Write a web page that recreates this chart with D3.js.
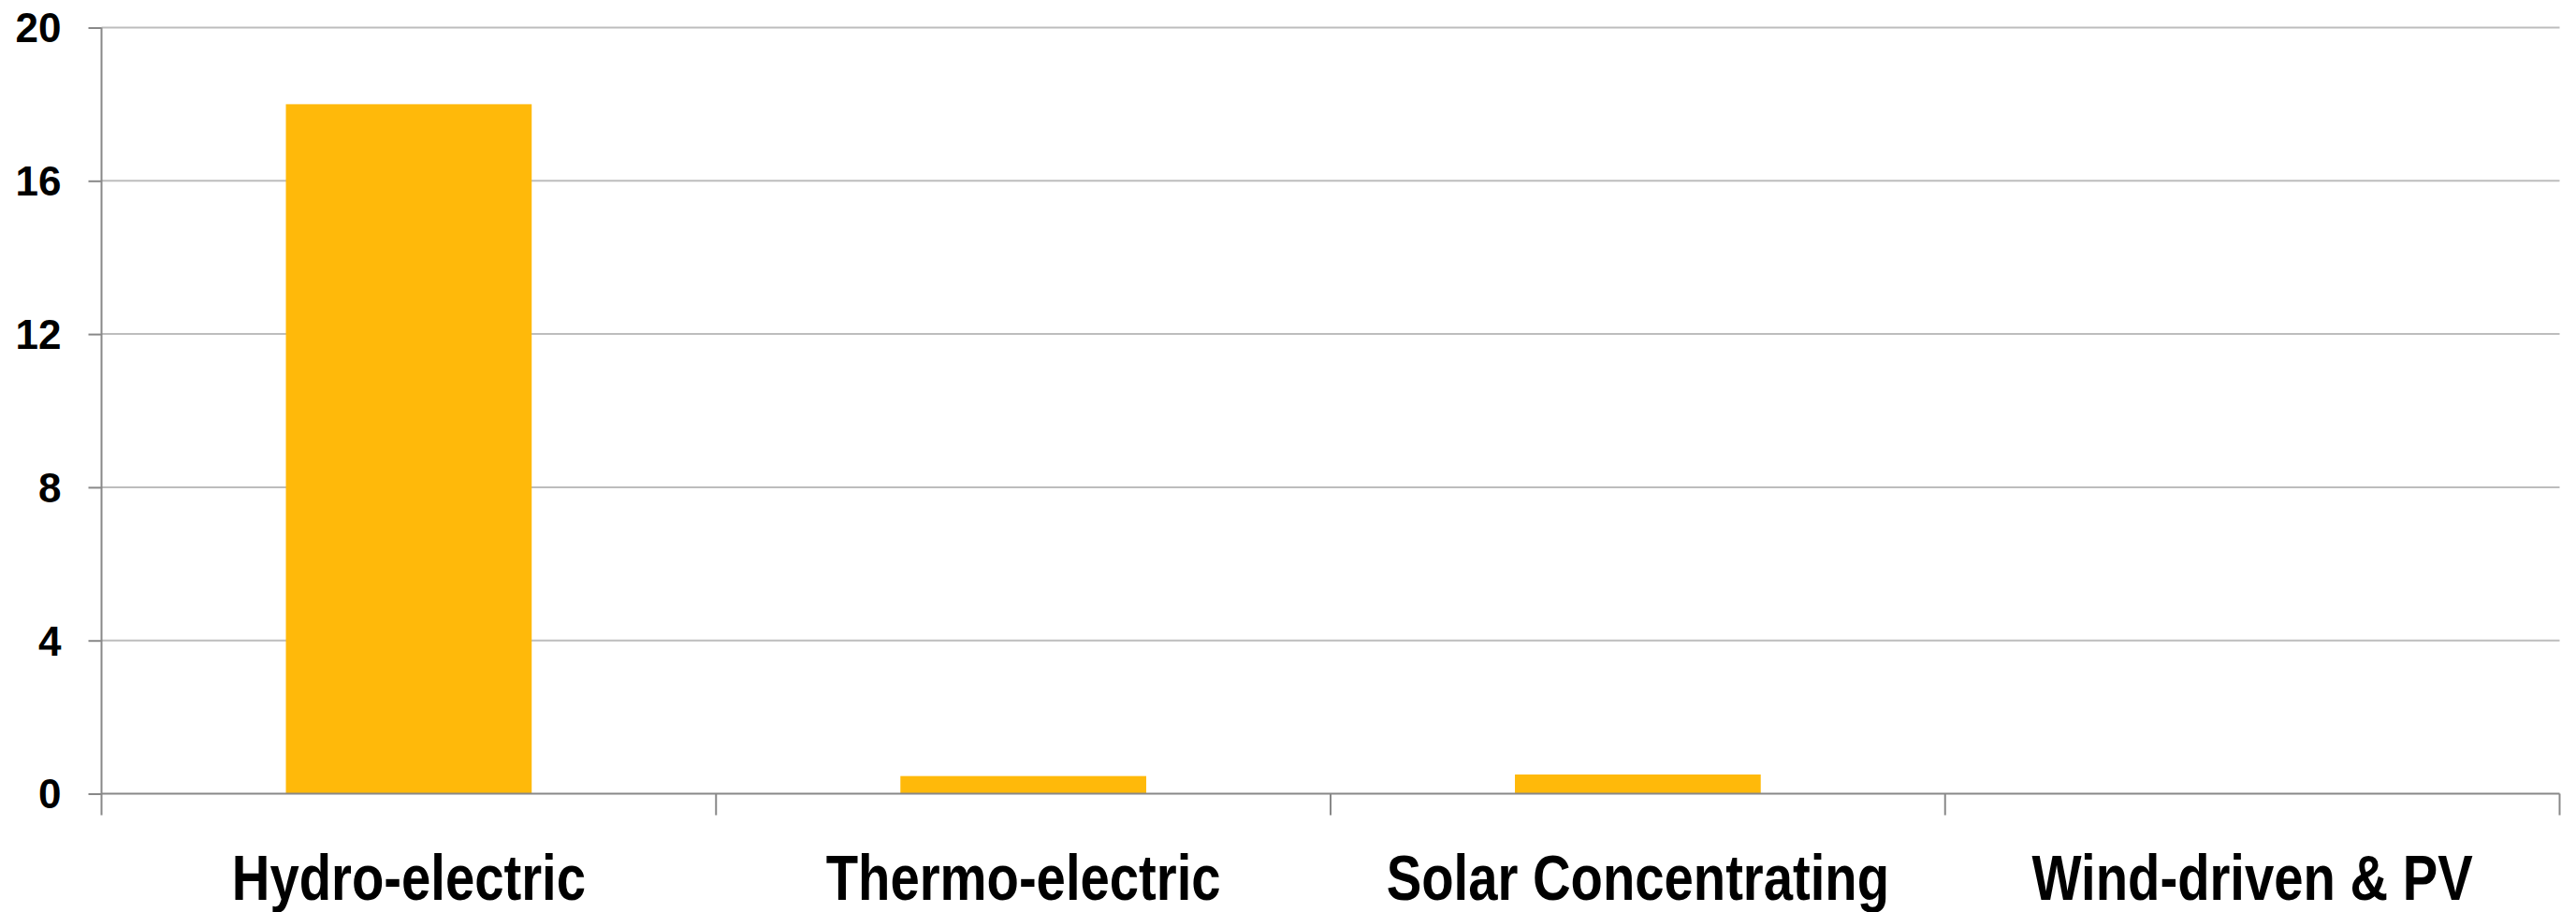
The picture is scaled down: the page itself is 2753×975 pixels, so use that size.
<!DOCTYPE html>
<html>
<head>
<meta charset="utf-8">
<script src="https://cdn.jsdelivr.net/npm/d3@7"></script>
<style>
  html, body { margin: 0; padding: 0; background: #ffffff; }
  svg { display: block; }
</style>
</head>
<body>
<svg id="chart" width="2753" height="975"></svg>
<script>
const categories = ["Hydro-electric", "Thermo-electric", "Solar Concentrating", "Wind-driven & PV"];
const values = [18, 0.46, 0.5, 0];
const yTicks = [0, 4, 8, 12, 16, 20];

const W = 2753, H = 975;
const margin = { left: 108.5, right: 17.5, top: 29.5, bottom: 126.5 };

const svg = d3.select("#chart");

const x = d3.scaleBand()
  .domain(categories)
  .range([margin.left, W - margin.right])
  .paddingInner(0).paddingOuter(0);

const y = d3.scaleLinear()
  .domain([0, 20])
  .range([H - margin.bottom, margin.top]);

// gridlines
svg.append("g")
  .selectAll("line")
  .data(yTicks.filter(d => d !== 0))
  .join("line")
  .attr("x1", margin.left)
  .attr("x2", W - margin.right)
  .attr("y1", d => y(d))
  .attr("y2", d => y(d))
  .attr("stroke", "#bdbdbd")
  .attr("stroke-width", 2);

// bars
const barW = x.bandwidth() * 0.4;
svg.append("g")
  .selectAll("rect")
  .data(categories.map((c, i) => ({ c, v: values[i] })))
  .join("rect")
  .attr("x", d => x(d.c) + (x.bandwidth() - barW) / 2)
  .attr("width", barW)
  .attr("y", d => y(d.v))
  .attr("height", d => y(0) - y(d.v))
  .attr("fill", "#FFB90A");

// y axis
const yAxis = d3.axisLeft(y)
  .tickValues(yTicks)
  .tickSize(14)
  .tickPadding(29)
  .tickFormat(d3.format("d"));
const gy = svg.append("g")
  .attr("transform", `translate(${margin.left},0)`)
  .call(yAxis);
gy.select(".domain").remove();
gy.append("line")
  .attr("x1", 0).attr("x2", 0)
  .attr("y1", margin.top).attr("y2", y(0) + 23)
  .attr("stroke", "#888888").attr("stroke-width", 2);
gy.selectAll(".tick line").attr("stroke", "#888888").attr("stroke-width", 2);
gy.selectAll(".tick text")
  .attr("fill", "#000")
  .attr("font-family", "'Liberation Sans', Arial, sans-serif")
  .attr("font-weight", "bold")
  .attr("font-size", 44)
  .attr("dy", "0.35em");

// x axis
const bounds = categories.map(c => x(c)).concat([x(categories[categories.length - 1]) + x.bandwidth()]);
const gx = svg.append("g");
gx.append("line")
  .attr("x1", margin.left).attr("x2", W - margin.right)
  .attr("y1", y(0)).attr("y2", y(0))
  .attr("stroke", "#888888").attr("stroke-width", 2);
gx.selectAll("line.tk")
  .data(bounds.slice(1))
  .join("line")
  .attr("class", "tk")
  .attr("x1", d => d).attr("x2", d => d)
  .attr("y1", y(0)).attr("y2", y(0) + 23)
  .attr("stroke", "#888888").attr("stroke-width", 2);
gx.selectAll("text")
  .data(categories)
  .join("text")
  .attr("transform", d => `translate(${x(d) + x.bandwidth() / 2},962) scale(0.815,1)`)
  .attr("text-anchor", "middle")
  .attr("font-family", "'Liberation Sans', Arial, sans-serif")
  .attr("font-weight", "bold")
  .attr("font-size", 69)
  .attr("fill", "#000")
  .text(d => d);
</script>
</body>
</html>
